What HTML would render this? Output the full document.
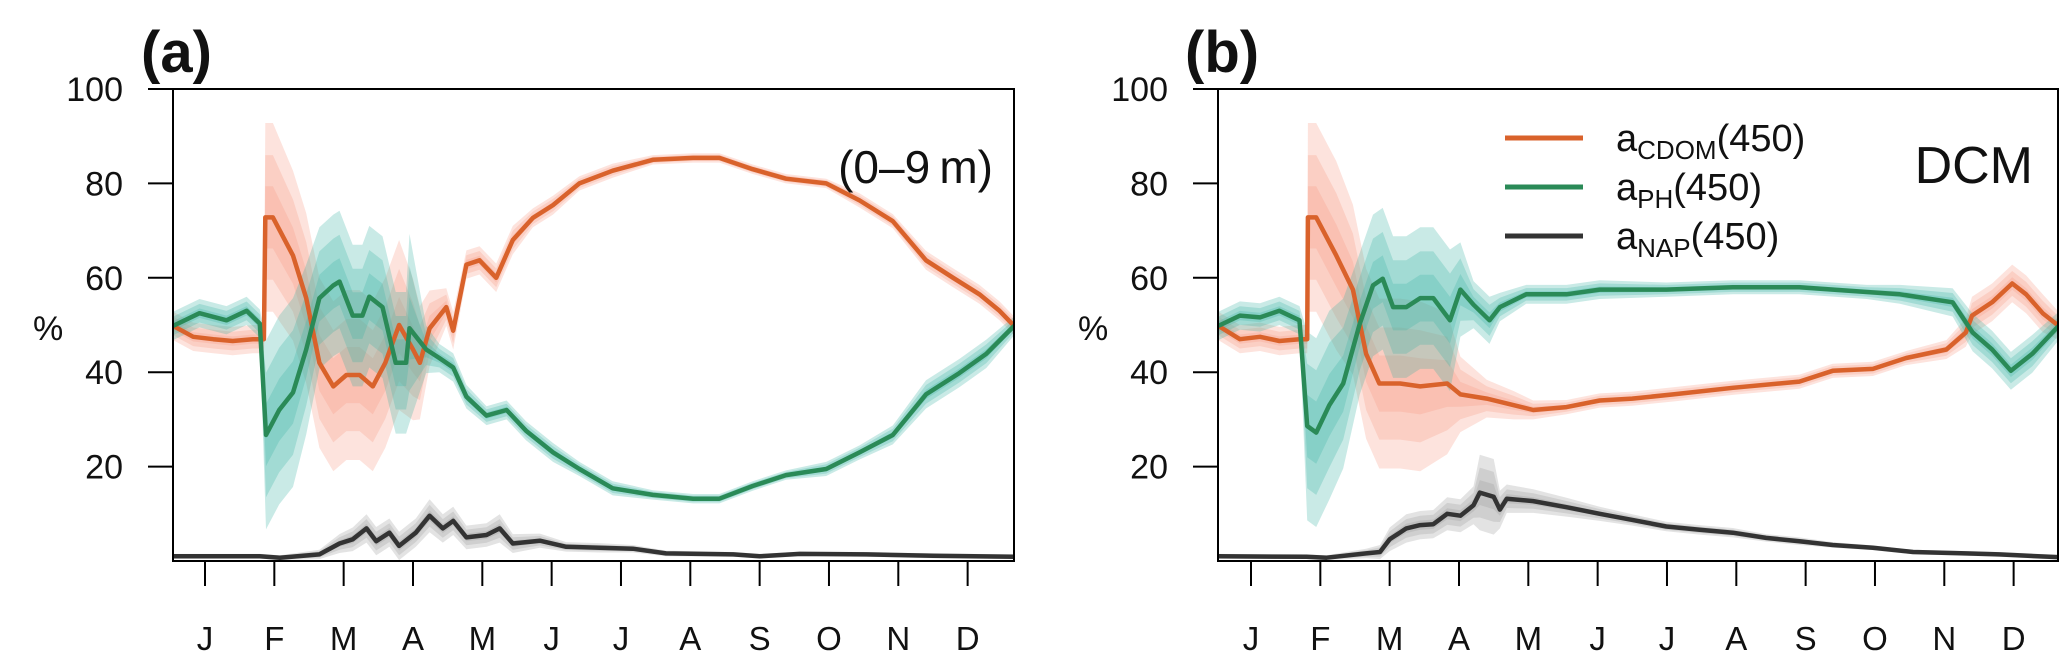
<!DOCTYPE html>
<html><head><meta charset="utf-8"><style>
html,body{margin:0;padding:0;background:#fff;}
svg{display:block;font-family:"Liberation Sans",Arial,sans-serif;}
</style></head><body>
<svg id="chart" width="2067" height="661" viewBox="0 0 2067 661" xmlns="http://www.w3.org/2000/svg"></svg>
<script>
// ---- data (x in months, 0 = mid-January) ----
const months = ["J","F","M","A","M","J","J","A","S","O","N","D"];
const yTicks = [20,40,60,80,100];

const aCdomT = [-0.46,-0.17,0.12,0.4,0.69,0.85,0.87,0.98,1.27,1.46,1.65,1.85,2.04,2.23,2.42,2.6,2.8,3.0,3.1,3.24,3.48,3.58,3.77,3.96,4.2,4.44,4.73,5.02,5.4,5.88,6.46,7.04,7.42,7.9,8.38,8.96,9.44,9.92,10.4,10.79,11.17,11.46,11.67];
const aCdomV = [49.8,47.5,47,46.6,47,47,72.8,72.8,64.7,55.7,42,37,39.4,39.4,37,42,50,44.8,42,49.3,53.8,48.8,62.8,63.7,60,68,72.7,75.4,80,82.7,85,85.4,85.4,83,81,80,76.4,72,63.7,60,56.5,53,49.8];
const aCdomS = [3,3,3,3,3,3,20,20,18,18,18,18,18,18,18,18,18,15,12,8,4,4,3,3,3,3,2,2,1.5,1.5,1,1,1,1,1,1,1.5,1.5,2,2,2,2,2];

const aPhT = [-0.46,-0.08,0.31,0.6,0.79,0.88,1.07,1.27,1.46,1.65,1.85,1.94,2.13,2.27,2.37,2.56,2.75,2.9,2.95,3.19,3.38,3.58,3.77,4.06,4.35,4.63,5.02,5.4,5.88,6.46,7.04,7.42,7.9,8.38,8.96,9.44,9.92,10.4,10.88,11.27,11.67];
const aPhV = [49.8,52.5,51,53,50.3,26.7,32,35.7,44.8,55.7,58.4,59.2,52,52,56,53.8,42,42,49.3,44.8,43,41,34.8,30.8,32,27.6,23,19.5,15.4,14,13.2,13.2,15.9,18.2,19.5,23,26.7,35.3,39.8,43.9,49.8];
const aPhS = [3,3,3,3,3,20,20,20,18,15,15,15,15,15,15,15,15,15,20,5,3,3,2.5,2,2,2,2,1.5,1.5,1,1,1,1,1,1.5,1.5,2,3,3,3,2];

const aNapT = [-0.46,0.79,1.08,1.65,1.94,2.13,2.33,2.47,2.66,2.8,3.04,3.24,3.43,3.58,3.77,4.06,4.25,4.44,4.83,5.21,5.69,6.17,6.65,7.62,8.0,8.58,9.54,10.5,11.67];
const aNapV = [1,1,0.7,1.4,3.7,4.6,6.9,4.2,6,3.2,6,9.6,6.9,8.5,5,5.5,6.9,3.7,4.3,3,2.8,2.6,1.6,1.4,1,1.5,1.4,1.1,0.9];
const aNapS = [0.5,0.5,0.5,1,2,2.5,3,3,3,3,3,3.5,3,3,2.5,2.5,3,2,1.5,1,1,0.8,0.6,0.5,0.5,0.5,0.5,0.5,0.5];

const bCdomT = [-0.47,-0.16,0.13,0.41,0.7,0.81,0.82,0.94,1.23,1.47,1.66,1.85,2.15,2.44,2.83,3.02,3.4,3.79,4.07,4.55,5.03,5.5,6.09,6.95,7.91,8.39,8.97,9.45,10.03,10.31,10.4,10.69,10.98,11.18,11.42,11.65];
const bCdomV = [49.8,47,47.5,46.6,47,47,72.8,72.8,64.7,57.5,43.9,37.6,37.6,37,37.6,35.3,34.4,33,32,32.6,34,34.4,35.3,36.7,38,40.3,40.7,43,44.8,48.4,52,54.8,58.8,56.5,52.5,49.8];
const bCdomS = [3,3,3,3,3,3,20,20,20,18,18,18,18,18,15,8,4,3,2,1.5,1.5,1.5,1.5,1.5,1.5,1.5,1.5,1.5,2,3,4,4,4,4,4,3];

const bPhT = [-0.47,-0.16,0.13,0.41,0.7,0.81,0.94,1.13,1.33,1.57,1.76,1.9,2.05,2.24,2.44,2.63,2.87,3.02,3.21,3.44,3.59,3.97,4.55,5.03,5.99,6.95,7.91,8.88,9.36,10.12,10.41,10.69,10.96,11.27,11.65];
const bPhV = [49.8,52,51.6,53,51,28.6,27.2,33,37.6,50.3,58.4,59.8,53.8,53.8,55.7,55.7,51,57.5,54.3,51,53.8,56.5,56.5,57.5,57.5,58,58,57,56.5,54.8,48.4,44.8,40.3,43.9,49.8];
const bPhS = [3,3,3,3,3,20,20,20,18,15,15,15,15,15,15,15,15,10,5,5,3,2,2,2,1.5,1.5,1.5,1.5,2,3,4,4,4,4,3];

const bNapT = [-0.47,0.8,1.09,1.66,1.86,2.0,2.24,2.44,2.63,2.83,3.02,3.21,3.3,3.5,3.59,3.69,4.07,4.55,5.03,5.5,5.99,6.47,6.95,7.43,7.91,8.39,8.97,9.55,10.31,10.79,11.65];
const bNapV = [1,0.9,0.7,1.6,1.9,4.6,6.9,7.6,7.8,10,9.6,11.8,14.5,13.6,10.9,13.2,12.7,11.4,10,8.7,7.3,6.6,6,4.9,4.2,3.4,2.8,1.9,1.6,1.4,0.8];
const bNapS = [0.5,0.5,0.5,1,1.5,2.5,3,3,3,3.5,3.5,4,8,8,4,3,2.5,2,1.5,1.2,1,1,1,0.8,0.8,0.6,0.5,0.5,0.5,0.5,0.5];

// ---- layout ----
const NS = "http://www.w3.org/2000/svg";
const svg = document.getElementById('chart');
function mk(tag, attrs, parent){
  const e = document.createElementNS(NS, tag);
  for (const k in attrs) e.setAttribute(k, attrs[k]);
  (parent||svg).appendChild(e);
  return e;
}
const COL = {cdom:"#d9622b", ph:"#2a8a57", nap:"#333333",
  cdomBand:"#f79a86", phBand:"#3cb5a5", napBand:"#9a9a9a"};

const panels = [
  {id:"a", left:173, right:1014, j:205, title:"(a)", titleX:141, tag:"(0–9\u2009m)", tagX:993,
   series:[["cdom",aCdomT,aCdomV,aCdomS],["ph",aPhT,aPhV,aPhS],["nap",aNapT,aNapV,aNapS]]},
  {id:"b", left:1218, right:2058, j:1251, title:"(b)", titleX:1185, tag:"DCM", tagX:2033,
   series:[["cdom",bCdomT,bCdomV,bCdomS],["ph",bPhT,bPhV,bPhS],["nap",bNapT,bNapV,bNapS]]}
];
const TOP = 89, BOT = 561, STEP = 69.33;
function ys(v){ return BOT - (v/100)*(BOT-TOP); }

panels.forEach(p=>{
  const xs = t => p.j + t*STEP;
  const g = mk('g', {});
  
  
  const clip = mk('clipPath', {id:'clip'+p.id}, g);
  mk('rect', {x:p.left, y:TOP, width:p.right-p.left, height:BOT-TOP}, clip);
  const plot = mk('g', {'clip-path':'url(#clip'+p.id+')'}, g);
  // bands
  p.series.forEach(([name,T,V,S])=>{
    [1,0.66,0.33].forEach((k,i)=>{
      let up = T.map((t,j)=>xs(t).toFixed(1)+","+ys(Math.min(100,V[j]+S[j]*k)).toFixed(1));
      let lo = T.map((t,j)=>xs(t).toFixed(1)+","+ys(Math.max(0,V[j]-S[j]*k)).toFixed(1)).reverse();
      const band = mk('polygon', {points:up.concat(lo).join(" "), fill:COL[name+"Band"], 'fill-opacity':0.28}, plot);
      
      
    });
  });
  // lines
  p.series.forEach(([name,T,V])=>{
    const pts = T.map((t,j)=>xs(t).toFixed(1)+","+ys(V[j]).toFixed(1)).join(" ");
    const ln = mk('polyline', {points:pts, fill:"none", stroke:COL[name], 'stroke-width':4.5, 'stroke-linejoin':'round'}, plot);
    
    
  });
  // box
  const box = mk('rect', {x:p.left, y:TOP, width:p.right-p.left, height:BOT-TOP, fill:"none", stroke:"#000", 'stroke-width':2}, g);
  
  
  // y axis
  yTicks.forEach(v=>{
    mk('line', {x1:p.left-25, x2:p.left, y1:ys(v), y2:ys(v), stroke:"#000", 'stroke-width':2}, g);
    const t = mk('text', {x:p.left-50, y:ys(v)+12, 'text-anchor':'end', 'font-size':34, fill:"#111"}, g);
    t.textContent = v;
    
    
  });
  const yl = mk('text', {x:p.left-140, y:340, 'font-size':34, fill:"#111"}, g);
  yl.textContent = "%";
  
  
  // x axis
  months.forEach((m,i)=>{
    mk('line', {x1:xs(i), x2:xs(i), y1:BOT, y2:BOT+25, stroke:"#000", 'stroke-width':2}, g);
    const t = mk('text', {x:xs(i), y:650, 'text-anchor':'middle', 'font-size':33, fill:"#111"}, g);
    t.textContent = m;
    
    
  });
  const tt = mk('text', {x:p.titleX, y:72, 'font-size':58, 'font-weight':'bold', fill:"#111"}, g);
  tt.textContent = p.title;
  
  
  const tg = mk('text', {x:p.tagX, y:183, 'text-anchor':'end', 'font-size':p.id==="a"?46:52, fill:"#111"}, g);
  tg.textContent = p.tag;
  
  
});

// legend (panel b)
const legend = mk('g', {});


[["cdom","CDOM",138],["ph","PH",187],["nap","NAP",236]].forEach(([k,sub,y])=>{
  mk('line', {x1:1505, x2:1583, y1:y, y2:y, stroke:COL[k], 'stroke-width':5}, legend);
  const t = mk('text', {x:1616, y:y+13, 'font-size':38, fill:"#111"}, legend);
  
  
  const a = mk('tspan', {}, t); a.textContent = "a";
  const s = mk('tspan', {'font-size':26, dy:8}, t); s.textContent = sub;
  const r = mk('tspan', {dy:-8}, t); r.textContent = "(450)";
});
</script>
</body></html>
